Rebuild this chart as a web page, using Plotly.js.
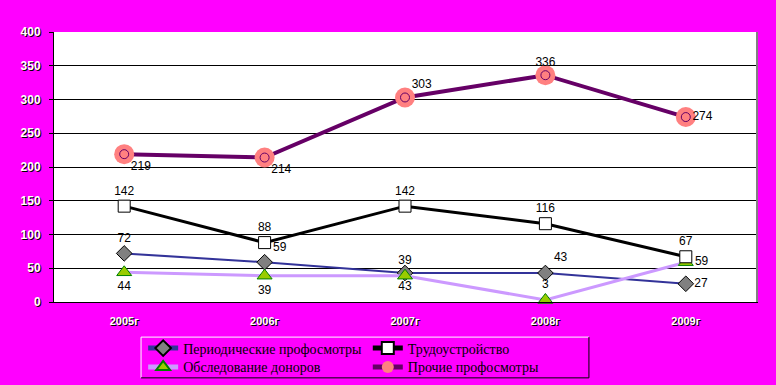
<!DOCTYPE html>
<html>
<head>
<meta charset="utf-8">
<script src="https://cdn.plot.ly/plotly-3.0.1.min.js"></script>
<style>html,body{margin:0;padding:0;background:#FF00FF;}#chart{width:776px;height:385px;}</style>
</head>
<body>
<div id="chart"></div>
<script>
const years = ["2005г", "2006г", "2007г", "2008г", "2009г"];
const periodic = [72, 59, 43, 43, 27];
const labor = [142, 88, 142, 116, 67];
const donors = [44, 39, 39, 3, 59];
const other = [219, 214, 303, 336, 274];
const yTicks = [0, 50, 100, 150, 200, 250, 300, 350, 400];
const gridTicks = [50, 100, 150, 200, 250, 300, 350];

const names = {
  periodic: "Периодические профосмотры",
  labor: "Трудоустройство",
  donors: "Обследование доноров",
  other: "Прочие профосмотры"
};

const labelFont = {family: "Liberation Sans, Arial, sans-serif", size: 12, color: "#000"};

const traces = [
  {
    x: years, y: periodic, name: names.periodic, legend: "legend",
    mode: "lines+markers+text", text: periodic.map(String),
    textposition: ["top center", "top right", "bottom center", "top right", "middle right"],
    textfont: labelFont,
    line: {color: "#333399", width: 2},
    marker: {symbol: "diamond", size: 12, color: "#808080", line: {color: "#000", width: 1}},
    cliponaxis: false
  },
  {
    x: years, y: donors, name: names.donors, legend: "legend3",
    mode: "lines+markers+text", text: donors.map(String),
    textposition: ["bottom center", "bottom center", "top center", "top center", "middle right"],
    textfont: labelFont,
    line: {color: "#CC99FF", width: 3},
    marker: {symbol: "triangle-up", size: 13, color: "#99CC00", line: {color: "#008000", width: 1}},
    cliponaxis: false
  },
  {
    x: years, y: labor, name: names.labor, legend: "legend2",
    mode: "lines+markers+text", text: labor.map(String),
    textposition: ["top center", "top center", "top center", "top center", "top center"],
    textfont: labelFont,
    line: {color: "#000000", width: 3},
    marker: {symbol: "square", size: 12, color: "#FFFFFF", line: {color: "#000", width: 1}},
    cliponaxis: false
  },
  {
    x: years, y: other, name: names.other, legend: "legend4",
    mode: "lines+markers",
    line: {color: "#660066", width: 4},
    marker: {symbol: "circle", size: 20, color: "#FF8080", line: {width: 0}},
    cliponaxis: false
  },
  {
    x: years, y: other, name: names.other, showlegend: false,
    mode: "markers+text", text: other.map(String),
    textposition: ["bottom right", "bottom right", "top right", "top center", "middle right"],
    textfont: labelFont,
    marker: {symbol: "circle-open", size: 9, color: "#660066", line: {color: "#660066", width: 1}},
    hoverinfo: "skip",
    cliponaxis: false
  }
];

const legendFont = {family: "Liberation Serif, Times New Roman, serif", size: 14, color: "#000"};
function mkLegend(x, y) {
  return {
    x: x, y: y, xanchor: "left", yanchor: "top",
    orientation: "v", bgcolor: "rgba(0,0,0,0)", borderwidth: 0,
    tracegroupgap: 0, itemwidth: 30, itemsizing: "constant",
    font: legendFont
  };
}

const layout = {
  width: 776, height: 385,
  paper_bgcolor: "#FF00FF",
  plot_bgcolor: "#FFFFFF",
  margin: {l: 54, r: 20, t: 32, b: 83, autoexpand: false},
  showlegend: true,
  font: {family: "Liberation Sans, Arial, sans-serif"},
  xaxis: {
    type: "category", range: [-0.5, 4.5],
    showgrid: false, zeroline: false,
    showline: true, linecolor: "#000", linewidth: 1,
    ticks: "", ticklabelstandoff: 9,
    tickfont: {family: "Liberation Sans, Arial, sans-serif", size: 11, color: "#FFFFFF", weight: "bold", shadow: "1px 1px 0px #000"}
  },
  yaxis: {
    range: [0, 400], tickvals: yTicks, ticktext: yTicks.map(String),
    showgrid: false, zeroline: false,
    showline: true, linecolor: "#000", linewidth: 1,
    ticks: "outside", ticklen: 4, tickcolor: "#000",
    ticklabelstandoff: 6,
    tickfont: {family: "Liberation Sans, Arial, sans-serif", size: 12, color: "#FFFFFF", weight: "bold", shadow: "1px 1px 0px #000"}
  },
  yaxis2: {
    overlaying: "y", side: "right", range: [0, 400],
    tickvals: gridTicks, showticklabels: false, ticks: "",
    showgrid: true, gridcolor: "#000", gridwidth: 1,
    zeroline: false, showline: true, linecolor: "#808080", linewidth: 2
  },
  legend: mkLegend(0.127, -0.113),
  legend2: mkLegend(0.447, -0.113),
  legend3: mkLegend(0.127, -0.183),
  legend4: mkLegend(0.447, -0.183),
  shapes: [
    {type: "line", xref: "paper", yref: "paper", x0: 0.124, x1: 0.762, y0: -0.130, y1: -0.130, line: {color: "#FFFFFF", width: 1}},
    {type: "line", xref: "paper", yref: "paper", x0: 0.124, x1: 0.124, y0: -0.130, y1: -0.281, line: {color: "#FFFFFF", width: 1}},
    {type: "line", xref: "paper", yref: "paper", x0: 0.124, x1: 0.762, y0: -0.281, y1: -0.281, line: {color: "#000000", width: 1}},
    {type: "line", xref: "paper", yref: "paper", x0: 0.762, x1: 0.762, y0: -0.130, y1: -0.281, line: {color: "#000000", width: 1}}
  ]
};

traces.push({x: years, y: other, yaxis: "y2", mode: "none", showlegend: false, hoverinfo: "skip"});

Plotly.newPlot("chart", traces, layout, {displayModeBar: false, staticPlot: true});
</script>
</body>
</html>
